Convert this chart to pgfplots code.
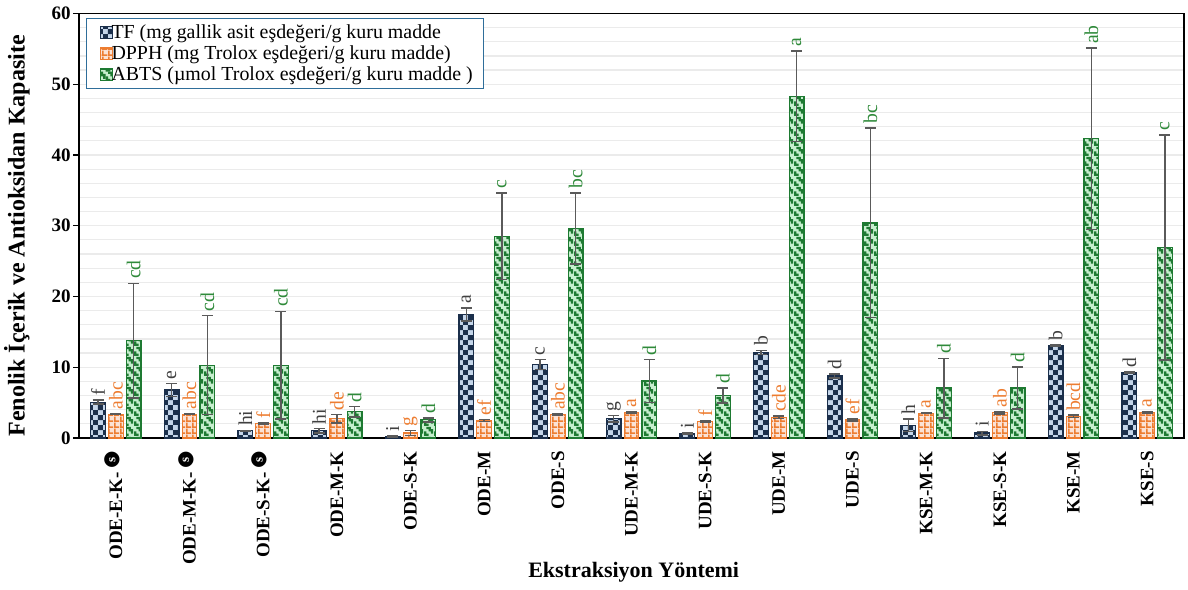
\documentclass[border=0pt]{standalone}
\usepackage{fontspec}
\setmainfont{Liberation Serif}
\newfontfamily\dejavu{DejaVu Sans}
\usepackage{pgfplots}
\pgfplotsset{compat=1.18}
\usepackage{pgfplotstable}
\usetikzlibrary{patterns,calc}

\definecolor{navy}{HTML}{1B2F4B}
\definecolor{lblue}{HTML}{C5D6EA}
\definecolor{orng}{HTML}{ED7D31}
\definecolor{peach}{HTML}{FBE2D5}
\definecolor{dgreen}{HTML}{1E7A32}
\definecolor{lgreen}{HTML}{C6EFCE}
\definecolor{errgray}{HTML}{5A5A5A}
\definecolor{letgray}{HTML}{404040}
\definecolor{letgreen}{HTML}{2F8A3A}
\definecolor{legblue}{HTML}{2F6E9A}
\definecolor{gridgray}{HTML}{EBEBEB}

\pgfdeclarepatternformonly{tfcheck}{\pgfpointorigin}{\pgfqpoint{5.2pt}{5.2pt}}{\pgfqpoint{5.2pt}{5.2pt}}{%
  \pgfpathrectangle{\pgfpointorigin}{\pgfqpoint{2.6pt}{2.6pt}}%
  \pgfpathrectangle{\pgfqpoint{2.6pt}{2.6pt}}{\pgfqpoint{2.6pt}{2.6pt}}%
  \pgfusepath{fill}}
\pgfdeclarepatternformonly{dgrid}{\pgfpointorigin}{\pgfqpoint{3pt}{3pt}}{\pgfqpoint{3pt}{3pt}}{%
  \pgfpathrectangle{\pgfpointorigin}{\pgfqpoint{3pt}{0.9pt}}%
  \pgfpathrectangle{\pgfpointorigin}{\pgfqpoint{0.9pt}{3pt}}%
  \pgfusepath{fill}}
\pgfdeclarepatternformonly{adiag}{\pgfpointorigin}{\pgfqpoint{4.8pt}{4.8pt}}{\pgfqpoint{4.8pt}{4.8pt}}{%
  \pgfpathrectangle{\pgfqpoint{0pt}{0pt}}{\pgfqpoint{1.2pt}{1.2pt}}%
  \pgfpathrectangle{\pgfqpoint{1.2pt}{0pt}}{\pgfqpoint{1.2pt}{1.2pt}}%
  \pgfpathrectangle{\pgfqpoint{3.6pt}{1.2pt}}{\pgfqpoint{1.2pt}{1.2pt}}%
  \pgfpathrectangle{\pgfqpoint{0pt}{1.2pt}}{\pgfqpoint{1.2pt}{1.2pt}}%
  \pgfpathrectangle{\pgfqpoint{2.4pt}{2.4pt}}{\pgfqpoint{1.2pt}{1.2pt}}%
  \pgfpathrectangle{\pgfqpoint{3.6pt}{2.4pt}}{\pgfqpoint{1.2pt}{1.2pt}}%
  \pgfpathrectangle{\pgfqpoint{1.2pt}{3.6pt}}{\pgfqpoint{1.2pt}{1.2pt}}%
  \pgfpathrectangle{\pgfqpoint{2.4pt}{3.6pt}}{\pgfqpoint{1.2pt}{1.2pt}}%
  \pgfusepath{fill}}

\newsavebox\sbx
\newcommand{\sicon}{\,\sbox\sbx{\dejavu\fontsize{10}{10}\selectfont ●}%
  \smash{\raisebox{\dimexpr 4.8pt-(\ht\sbx-\dp\sbx)/2\relax}{\rlap{\usebox\sbx}\hbox to \wd\sbx{\hss\raisebox{\dimexpr(\ht\sbx-\dp\sbx)/2-1.45pt\relax}{\color{white}\fontsize{6.5}{6.5}\selectfont\bfseries s}\hss}}}}

\pgfplotstableread{
x tf tfe dp dpe ab abe ltf ldp lab
0  5.07 0.30 3.36 0.05 13.75 8.10 f  abc cd
1  6.78 0.90 3.36 0.05 10.30 7.00 e  abc cd
2  1.04 0.05 2.00 0.10 10.30 7.60 hi f   cd
3  1.04 0.30 2.70 0.60  3.70 0.75 hi de  d
4  0.20 0.05 0.70 0.35  2.56 0.30 i  g   d
5 17.44 0.90 2.46 0.15 28.50 6.10 a  ef  c
6 10.38 0.70 3.27 0.10 29.60 5.00 c  abc bc
7  2.70 0.45 3.55 0.10  8.05 3.05 g  a   d
8  0.57 0.10 2.32 0.10  6.00 1.05 i  f   d
9 12.10 0.30 2.93 0.15 48.30 6.40 b  cde a
10 8.77 0.30 2.56 0.15 30.40 13.40 d ef  bc
11 1.80 0.90 3.50 0.05  7.06 4.20 h  a   d
12 0.70 0.25 3.55 0.15  7.06 2.95 i  ab  d
13 13.03 0.10 3.07 0.15 42.30 12.80 b bcd ab
14 9.29 0.10 3.64 0.10 26.90 15.90 d a   c
}\data

\begin{document}
\begin{tikzpicture}
\begin{axis}[
  scale only axis,
  width=552.5pt, height=212.25pt,
  xmin=-0.5, xmax=14.5, ymin=0, ymax=60,
  ybar, bar width=7.3pt,
  axis line style={black, line width=0.7pt},
  clip=false,
  tick pos=left,
  xtick={0,...,14},
  xticklabels={{ODE-E-K-\sicon},{ODE-M-K-\sicon},{ODE-S-K-\sicon},{ODE-M-K},{ODE-S-K},{ODE-M},{ODE-S},{UDE-M-K},{UDE-S-K},{UDE-M},{UDE-S},{KSE-M-K},{KSE-S-K},{KSE-M},{KSE-S}},
  minor xtick={-0.5,0.5,...,14.5},
  ytick={0,10,...,60},
  minor ytick={2,4,6,8,12,14,16,18,22,24,26,28,32,34,36,38,42,44,46,48,52,54,56,58},
  ymajorgrids, yminorgrids,
  major grid style={gridgray, line width=0.6pt},
  minor grid style={gridgray, line width=0.6pt},
  tick align=outside,
  major tick length=3pt, minor tick length=4pt,
  xtick style={draw=none},
  minor x tick style={black, line width=0.7pt},
  minor y tick style={draw=none},
  ytick style={black, line width=0.7pt},
  /pgf/number format/assume math mode=true,
  yticklabel style={font=\fontsize{9.5}{10}\selectfont\bfseries, inner sep=1pt},
  xticklabel style={font=\fontsize{9.5}{10}\selectfont\bfseries, rotate=90, anchor=east, inner xsep=3.5pt, inner ysep=1pt},
  xlabel={Ekstraksiyon Yöntemi},
  ylabel={Fenolik İçerik ve Antioksidan Kapasite},
  every axis x label/.style={at={(axis description cs:0.502,-0.3157)}, anchor=center, font=\fontsize{11}{13}\selectfont\bfseries},
  every axis y label/.style={at={(axis description cs:-0.0561,0.4764)}, rotate=90, anchor=center, font=\fontsize{12}{14}\selectfont\bfseries},
  legend style={at={(0.0063,0.9894)}, anchor=north west, draw=legblue, line width=0.6pt,
    font=\fontsize{9.95}{11}\selectfont, row sep=0pt, inner xsep=4pt, inner ysep=1.8pt,
    nodes={inner ysep=1.05pt, inner xsep=1.5pt}},
  legend cell align=left,
  legend image code/.code={\pgfpathmoveto{\pgfqpoint{0pt}{0pt}}\pgfpathlineto{\pgfqpoint{7pt}{0pt}}\pgfusepath{discard}\draw[#1,overlay] (3pt,-2.9pt) rectangle (8.8pt,2.9pt);},
  letters/.style={forget plot, draw=none, fill=none, nodes near coords, point meta=explicit symbolic,
     every node near coord/.append style={rotate=90, anchor=west, font=\fontsize{9.8}{11}\selectfont, inner xsep=2pt, inner ysep=1pt}},
  ebars/.style={error bars/.cd, y dir=both, y explicit,
     error bar style={errgray, line width=0.75pt},
     error mark options={rotate=90, mark size=2.75pt, line width=0.75pt, errgray}},
]
\addplot[bar shift=-8.9pt, draw=navy, line width=0.6pt, fill=lblue, postaction={pattern=tfcheck, pattern color=navy}, ebars]
  table[x=x, y=tf, y error=tfe] {\data};
\addplot[bar shift=0pt, draw=orng, line width=0.6pt, fill=peach, postaction={pattern=dgrid, pattern color=orng}, ebars]
  table[x=x, y=dp, y error=dpe] {\data};
\addplot[bar shift=8.9pt, draw=dgreen, line width=0.6pt, fill=lgreen, postaction={pattern=adiag, pattern color=dgreen}, ebars]
  table[x=x, y=ab, y error=abe] {\data};
\legend{TF (mg gallik asit eşdeğeri/g kuru madde, DPPH (mg Trolox eşdeğeri/g kuru madde), ABTS (µmol Trolox eşdeğeri/g kuru madde )}
\addplot[bar shift=-8.9pt, letters, every node near coord/.append style={text=letgray}]
  table[x=x, y expr=\thisrow{tf}+\thisrow{tfe}, meta=ltf] {\data};
\addplot[bar shift=0pt, letters, every node near coord/.append style={text=orng}]
  table[x=x, y expr=\thisrow{dp}+\thisrow{dpe}, meta=ldp] {\data};
\addplot[bar shift=8.9pt, letters, every node near coord/.append style={text=letgreen}]
  table[x=x, y expr=\thisrow{ab}+\thisrow{abe}, meta=lab] {\data};
\end{axis}
\pgfresetboundingbox
\path ($(current axis.south west)+(-39.5pt,-76pt)$) rectangle ($(current axis.north east)+(2pt,6.75pt)$);
\end{tikzpicture}
\end{document}
